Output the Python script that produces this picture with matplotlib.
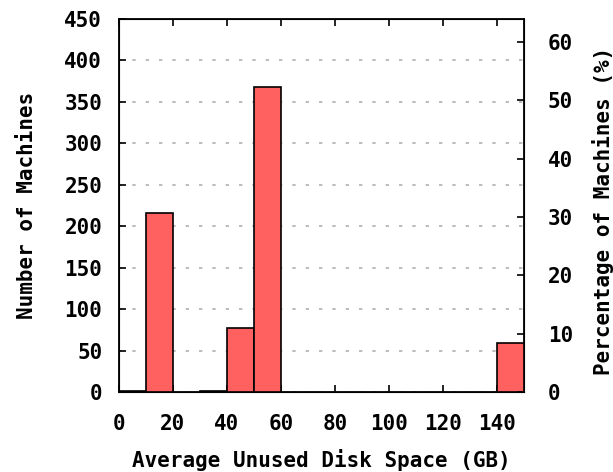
import matplotlib
matplotlib.use("Agg")
import matplotlib.pyplot as plt

# histogram of average unused disk space
bin_left = [0, 10, 30, 40, 50, 140]
machines = [1, 216, 1, 77, 368, 59]
bin_width = 10
x_ticks = [0, 20, 40, 60, 80, 100, 120, 140]
y_ticks = [0, 50, 100, 150, 200, 250, 300, 350, 400, 450]
pct_ticks = [0, 10, 20, 30, 40, 50, 60]

font = {"family": "DejaVu Sans Mono", "weight": "bold", "size": 15}


def main():
    fig = plt.figure(figsize=(6.13, 4.72), dpi=100)
    ax = fig.add_axes([0.194, 0.1695, 0.661, 0.7905])

    ax.bar(bin_left, machines, width=bin_width, align="edge",
           color="#ff6060", edgecolor="black", linewidth=1.2, zorder=3)

    ax.set_xlim(0, 150)
    ax.set_ylim(0, 450)
    ax.set_xticks(x_ticks)
    ax.set_yticks(y_ticks)
    ax.yaxis.grid(True, color="#b0b0b0", linestyle=(0, (2, 6)), linewidth=1.2, zorder=0)
    ax.tick_params(direction="in", length=5, width=1.2, top=True, right=True)
    ax.tick_params(axis="x", pad=16)
    ax.tick_params(axis="y", pad=12)
    for s in ax.spines.values():
        s.set_linewidth(1.3)

    for lab in ax.get_xticklabels() + ax.get_yticklabels():
        lab.set_fontproperties(font)

    ax.set_ylabel("Number of Machines", fontdict=font, labelpad=20)
    fig.text(0.5 * (0.194 + 0.855), 0.026, "Average Unused Disk Space (GB)",
             fontdict=font, ha="center", va="center")

    ax2 = ax.twinx()
    ax2.set_ylim(0, 64)
    ax2.set_yticks(pct_ticks)
    ax2.tick_params(direction="in", length=5, width=1.2, pad=17)
    for lab in ax2.get_yticklabels():
        lab.set_fontproperties(font)
    fig.text(0.983, 0.553, "Percentage of Machines (%)", fontdict=font,
             rotation=90, ha="center", va="center")

    fig.savefig("out.png", dpi=100)


if __name__ == "__main__":
    main()
